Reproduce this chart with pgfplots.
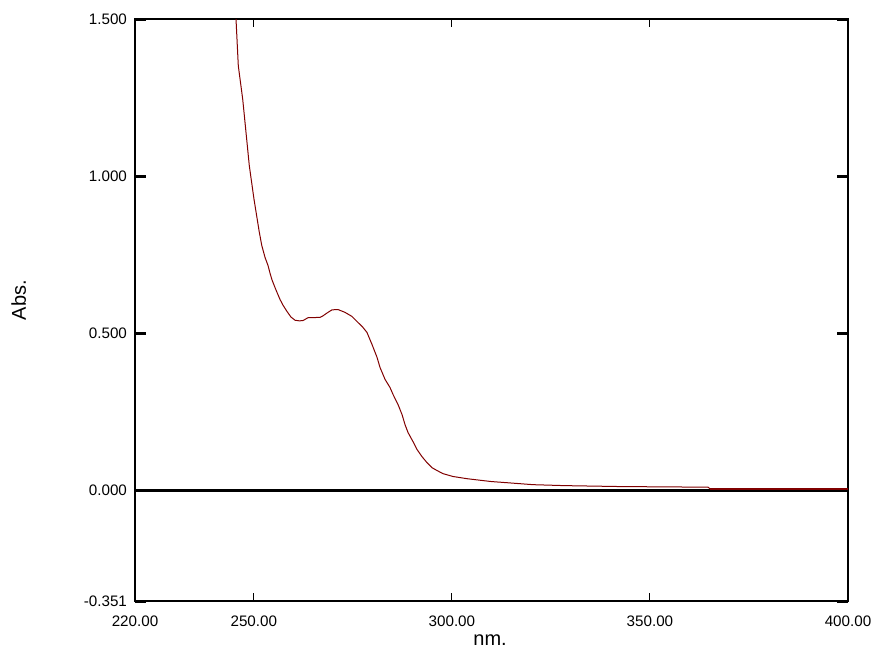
\documentclass[border=0pt]{standalone}
\usepackage{fontspec}
\setmainfont{Liberation Sans}
\usepackage{pgfplots}
\pgfplotsset{compat=1.18}
\definecolor{specRed}{RGB}{128,0,0}

\begin{document}
\begin{tikzpicture}
% 1 px of the reference = 0.5pt
\useasboundingbox (-67.5pt,-24pt) rectangle (368pt,300.5pt);
\begin{axis}[
    at={(0,0)}, anchor=south west,
    scale only axis,
    width=356.5pt, height=291pt,
    xmin=220, xmax=400,
    ymin=-0.351, ymax=1.5,
    axis line style={line width=1pt},
    tick align=inside,
    xtick={220,250,300,350,400},
    xticklabels={220.00,250.00,300.00,350.00,400.00},
    ytick={-0.351,0,0.5,1,1.5},
    yticklabels={-0.351,0.000,0.500,1.000,1.500},
    xtick style={line width=0.5pt, black, /pgfplots/major tick length=4pt},
    ytick style={line width=1.5pt, black, /pgfplots/major tick length=5.5pt},
    tick label style={font=\fontsize{7.6}{9}\selectfont},
    yticklabel style={xshift=-0.5pt},
    xticklabel style={yshift=-4pt},
    xlabel={nm.}, ylabel={Abs.},
    label style={font=\fontsize{7.2}{9}\selectfont},
    every axis x label/.style={at={(axis description cs:0.498,-0.067)}, anchor=center},
    every axis y label/.style={at={(axis description cs:-0.163,0.517)}, anchor=center, rotate=90},
]
% zero line
\addplot[black, line width=1.5pt, forget plot] coordinates {(220,0) (400,0)};
% spectrum
\addplot[specRed, line width=0.5pt] coordinates {
(245.40,1.530) (245.50,1.500) (246.08,1.351) (247.19,1.245) (248.02,1.140) (248.86,1.033)
(250.04,0.927) (251.38,0.822) (252.00,0.780) (252.82,0.742) (253.58,0.716) (254.08,0.692)
(254.59,0.670) (255.60,0.638) (256.61,0.608) (257.36,0.590) (258.37,0.570) (259.38,0.552)
(260.40,0.542) (261.50,0.540) (262.41,0.541) (263.68,0.550) (266.71,0.551) (267.46,0.556)
(268.60,0.566) (269.74,0.575) (271.25,0.576) (273.02,0.567) (274.78,0.554) (276.05,0.538)
(277.56,0.519) (278.57,0.503) (279.83,0.465) (281.10,0.424) (281.85,0.392) (283.12,0.354)
(284.38,0.328) (285.14,0.306) (286.40,0.274) (287.41,0.242) (288.17,0.210) (288.92,0.185)
(290.18,0.156) (291.19,0.131) (292.46,0.108) (293.72,0.089) (294.98,0.073) (296.24,0.064)
(297.76,0.054) (300.28,0.045) (303.82,0.038) (305.84,0.035) (309.88,0.029) (314.17,0.025)
(320.48,0.019) (328.31,0.016) (342.45,0.013) (364.66,0.011) (365.17,0.006) (400.00,0.006)
};
% overlapping thicker tail
\addplot[specRed, line width=1pt] coordinates {(365.17,0.006) (400.00,0.006)};
\end{axis}
\end{tikzpicture}
\end{document}
